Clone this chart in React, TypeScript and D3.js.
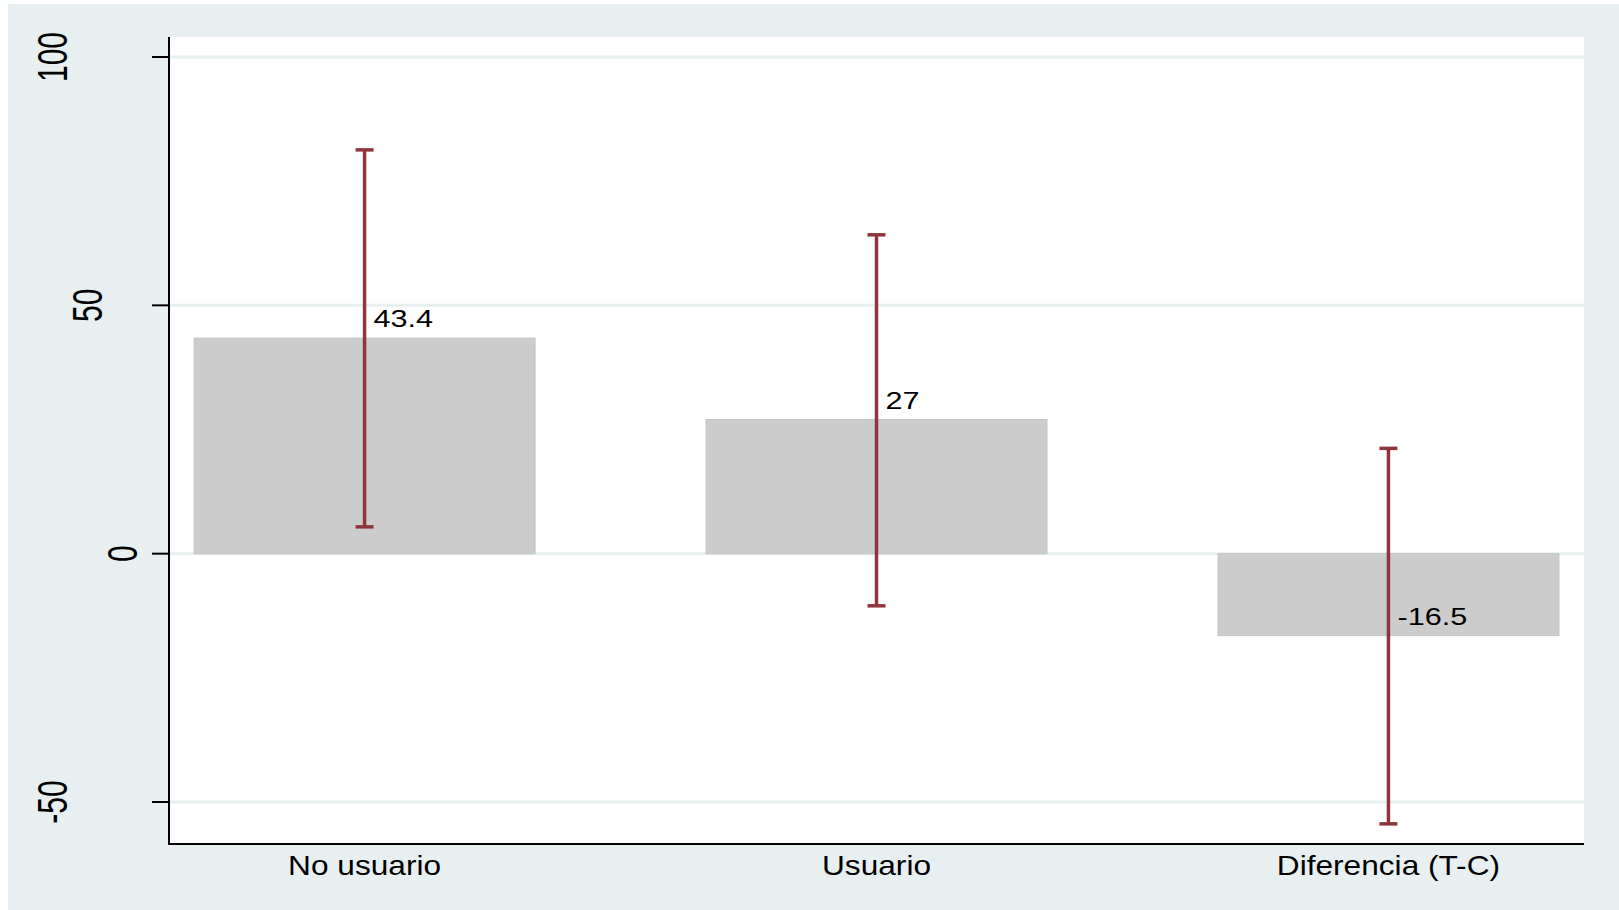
import React from "react";
import * as d3 from "d3";

const categories = ["No usuario", "Usuario", "Diferencia (T-C)"];
const means = [43.4, 27, -16.5];
const ciLow = [5.4, -10.5, -54.4];
const ciHigh = [81.3, 64.2, 21.2];
const yTicks = [-50, 0, 50, 100];

const W = 1619;
const H = 910;
const BG = "#e8eff1";
const FONT = "'Liberation Sans', Arial, Helvetica, sans-serif";

export default function App() {
  const plotLeft = 169;
  const plotRight = 1584;
  const plotTop = 37;
  const plotBottom = 844;

  const y = d3.scaleLinear().domain([-50, 100]).range([802, 57]);
  const x = d3
    .scaleBand<string>()
    .domain(categories)
    .range([plotLeft, plotRight])
    .paddingInner(0.334)
    .paddingOuter(0.049);

  const fmt = (v: number) => d3.format("~g")(v).replace("\u2212", "-");

  return (
    <svg
      width={W}
      height={H}
      style={{ position: "absolute", left: 0, top: 0, display: "block" }}
    >
      <rect x={0} y={0} width={W} height={H} fill="#ffffff" />
      <rect x={8} y={4} width={W - 8} height={H - 4} fill={BG} />
      <rect
        x={plotLeft}
        y={plotTop}
        width={plotRight - plotLeft}
        height={plotBottom - plotTop}
        fill="#ffffff"
      />
      {/* gridlines */}
      {yTicks.map((t) => (
        <line
          key={"g" + t}
          x1={plotLeft}
          x2={plotRight}
          y1={y(t)}
          y2={y(t)}
          stroke={BG}
          strokeWidth={3}
        />
      ))}
      {/* bars */}
      {categories.map((c, i) => {
        const y0 = y(0);
        const y1 = y(means[i]);
        return (
          <rect
            key={"b" + c}
            x={x(c)!}
            y={Math.min(y0, y1)}
            width={x.bandwidth()}
            height={Math.abs(y1 - y0)}
            fill="#cccccc"
            stroke="#c4c4c4"
            strokeWidth={1}
          />
        );
      })}
      {/* error bars */}
      {categories.map((c, i) => {
        const cx = x(c)! + x.bandwidth() / 2;
        const cap = 9;
        return (
          <g key={"e" + c} stroke="#90353b" strokeWidth={3.5}>
            <line x1={cx} x2={cx} y1={y(ciLow[i])} y2={y(ciHigh[i])} />
            <line x1={cx - cap} x2={cx + cap} y1={y(ciLow[i])} y2={y(ciLow[i])} />
            <line x1={cx - cap} x2={cx + cap} y1={y(ciHigh[i])} y2={y(ciHigh[i])} />
          </g>
        );
      })}
      {/* value labels */}
      {categories.map((c, i) => {
        const cx = x(c)! + x.bandwidth() / 2;
        return (
          <text
            key={"l" + c}
            transform={`translate(${cx + 9},${y(means[i]) - 11}) scale(1.25,1)`}
            fontFamily={FONT}
            fontSize={24.5}
            fill="#000"
          >
            {fmt(means[i])}
          </text>
        );
      })}
      {/* axes */}
      <line
        x1={plotLeft}
        x2={plotLeft}
        y1={plotTop}
        y2={plotBottom}
        stroke="#000"
        strokeWidth={2}
      />
      <line
        x1={plotLeft - 1}
        x2={plotRight}
        y1={plotBottom}
        y2={plotBottom}
        stroke="#000"
        strokeWidth={2}
      />
      {yTicks.map((t) => {
        const label = fmt(t);
        const cx = 157 - 35 * label.length;
        return (
          <g key={"t" + t}>
            <line
              x1={plotLeft - 17}
              x2={plotLeft}
              y1={y(t)}
              y2={y(t)}
              stroke="#000"
              strokeWidth={2}
            />
            <text
              transform={`translate(${cx},${y(t)}) scale(1.43,1) rotate(-90)`}
              textAnchor="middle"
              dominantBaseline="central"
              fontFamily={FONT}
              fontSize={30}
              fill="#000"
            >
              {label}
            </text>
          </g>
        );
      })}
      {categories.map((c) => {
        const cx = x(c)! + x.bandwidth() / 2;
        return (
          <text
            key={"x" + c}
            transform={`translate(${cx},875) scale(1.13,1)`}
            textAnchor="middle"
            fontFamily={FONT}
            fontSize={28}
            fill="#000"
          >
            {c}
          </text>
        );
      })}
    </svg>
  );
}
